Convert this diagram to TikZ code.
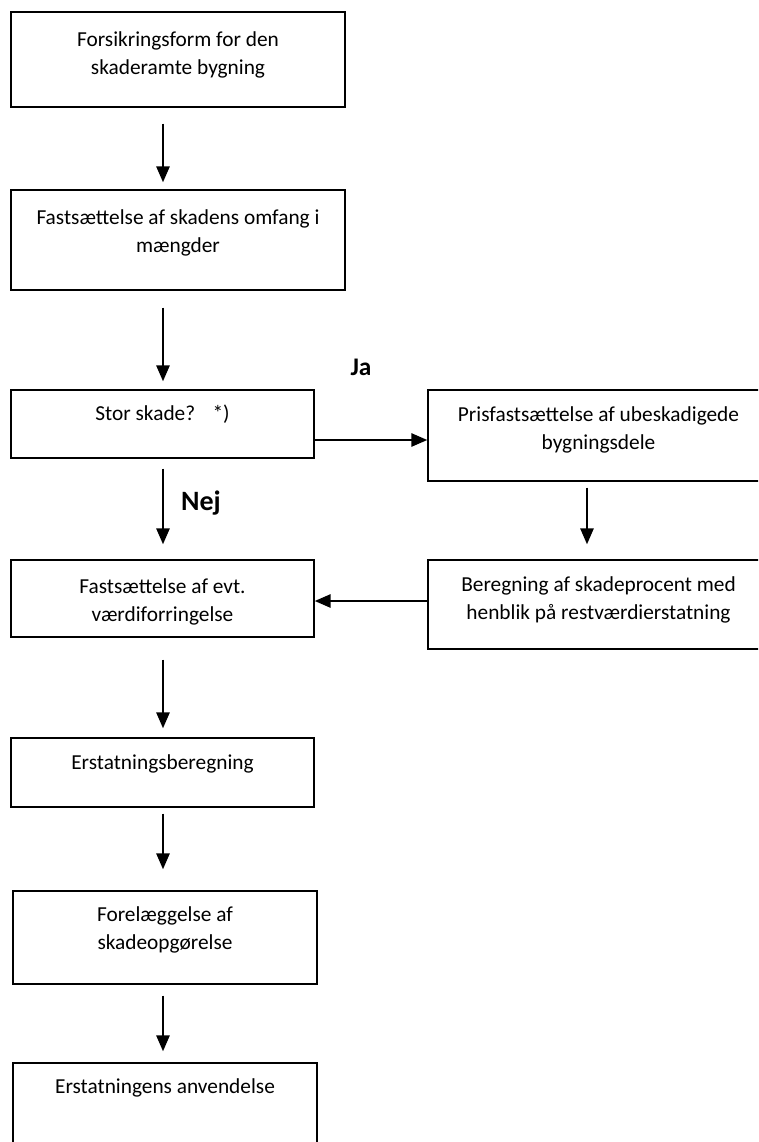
\documentclass[tikz,border=0pt]{standalone}
\usepackage{fontspec}
\setmainfont{Carlito}
\usetikzlibrary{arrows.meta,calc,fit}
\begin{document}
\begin{tikzpicture}[x=0.75pt,y=-0.75pt,
  box/.style={draw,line width=1.1pt,inner sep=0pt},
  txt/.style={font=\fontsize{16}{21}\selectfont,align=center,inner sep=0pt,anchor=north},
  flow/.style={line width=1.5pt,-{Triangle[length=12pt,width=10pt]}},
  lbl/.style={inner sep=0pt}]
\useasboundingbox (0,0) rectangle (758,1142);
\clip (0,0) rectangle (758,1142);

% boxes of the main column
\node[box,fit={(11,12) (345,107)}] (b1) {};
\node[box,fit={(11,190) (345,290)}] (b2) {};
\node[box,fit={(11,390) (314,458)}] (b3) {};
\node[box,fit={(11,560) (314,637)}] (b4) {};
\node[box,fit={(11,738) (314,807)}] (b5) {};
\node[box,fit={(13,891) (317,984)}] (b6) {};
\node[box,fit={(13,1063) (317,1165)}] (b7) {};
% boxes of the side branch
\node[box,fit={(428,390) (769,481)}] (r1) {};
\node[box,fit={(428,560) (769,649)}] (r2) {};

% box texts
\node[txt] (t1) at ($(b1.north)+(0,20)$) {Forsikringsform for den\\skaderamte bygning};
\node[txt] (t2) at ($(b2.north)+(0,20)$) {Fastsættelse af skadens omfang i\\mængder};
\node[txt] (t3) at ($(b3.north)+(0,15)$) {Stor skade?\hspace{13pt}*)};
\node[txt] (t4) at ($(b4.north)+(0,19)$) {Fastsættelse af evt.\\værdiforringelse};
\node[txt] (t5) at ($(b5.north)+(0,17)$) {Erstatningsberegning};
\node[txt] (t6) at ($(b6.north)+(0,16)$) {Forelæggelse af\\skadeopgørelse};
\node[txt] (t7) at ($(b7.north)+(0,16)$) {Erstatningens anvendelse};
\node[txt] (tr1) at ($(r1.north)+(0,17)$) {Prisfastsættelse af ubeskadigede\\bygningsdele};
\node[txt] (tr2) at ($(r2.north)+(0,17)$) {Beregning af skadeprocent med\\henblik på restværdierstatning};

% branch labels
\node[lbl,font=\fontsize{19}{22}\selectfont\bfseries] (ja) at (361,367) {Ja};
\node[lbl,font=\fontsize{21}{24}\selectfont\bfseries] (nej) at (201,503) {Nej};

% connector guides
\coordinate (ax) at (163,0);
\coordinate (axr) at (587,0);
\coordinate (yja) at (0,440);
\coordinate (yback) at (0,601);

% connectors
\draw[flow,shorten <=12pt,shorten >=5.25pt] (b1.south -| ax) -- (b2.north -| ax);
\draw[flow,shorten <=12.75pt,shorten >=6pt] (b2.south -| ax) -- (b3.north -| ax);
\draw[flow,shorten <=7.5pt,shorten >=11.25pt] (b3.south -| ax) -- (b4.north -| ax);
\draw[flow,shorten <=16.5pt,shorten >=6.75pt] (b4.south -| ax) -- (b5.north -| ax);
\draw[flow,shorten <=4.5pt,shorten >=15.75pt] (b5.south -| ax) -- (b6.north -| ax);
\draw[flow,shorten <=8.25pt,shorten >=8.25pt] (b6.south -| ax) -- (b7.north -| ax);
\draw[flow,shorten <=4.5pt,shorten >=11.25pt] (r1.south -| axr) -- (r2.north -| axr);
\draw[flow] (b3.east |- yja) -- (r1.west |- yja);
\draw[flow] (r2.west |- yback) -- (b4.east |- yback);
\end{tikzpicture}
\end{document}
